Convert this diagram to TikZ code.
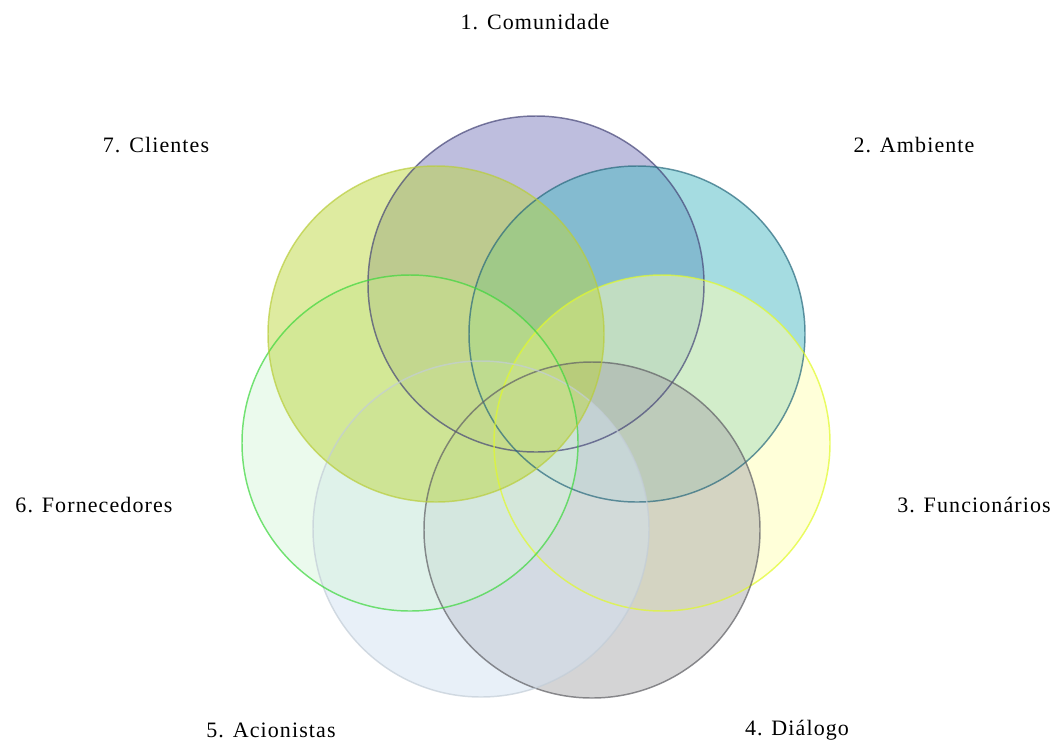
\documentclass[tikz,border=0pt]{standalone}
\usepackage{fontspec}
\setmainfont{Liberation Serif}[LetterSpace=5]
\definecolor{f1}{RGB}{125,125,189}\definecolor{e1}{RGB}{70,70,120}
\definecolor{f2}{RGB}{75,185,195}\definecolor{e2}{RGB}{40,105,125}
\definecolor{f3}{RGB}{255,255,180}\definecolor{e3}{RGB}{225,250,40}
\definecolor{f4}{RGB}{170,170,172}\definecolor{e4}{RGB}{95,95,100}
\definecolor{f5}{RGB}{209,225,241}\definecolor{e5}{RGB}{195,205,215}
\definecolor{f6}{RGB}{215,245,220}\definecolor{e6}{RGB}{60,215,60}
\definecolor{f7}{RGB}{189,215,65}\definecolor{e7}{RGB}{185,205,60}
\tikzset{
  venn/.style={circle, inner sep=0pt, minimum size=252pt, fill opacity=0.5},
  rim/.style={circle, inner sep=0pt, minimum size=252pt, line width=1.1pt, draw opacity=0.7},
  lbl/.style={font=\fontsize{16.5}{19}\selectfont, text=black, inner sep=0pt}
}
\begin{document}
\begin{tikzpicture}[x=0.75pt,y=-0.75pt]
\useasboundingbox (0,0) rectangle (1059,747);
\node[venn, fill=f1] (c1) at (536,284) {};
\node[venn, fill=f2] (c2) at (637,334) {};
\node[venn, fill=f3] (c3) at (662,443) {};
\node[venn, fill=f4] (c4) at (592,530) {};
\node[venn, fill=f5] (c5) at (481,529) {};
\node[venn, fill=f6] (c6) at (410,443) {};
\node[venn, fill=f7] (c7) at (436,334) {};
\node[rim, draw=e1] (r1) at (c1) {};
\node[rim, draw=e2] (r2) at (c2) {};
\node[rim, draw=e3] (r3) at (c3) {};
\node[rim, draw=e4] (r4) at (c4) {};
\node[rim, draw=e5] (r5) at (c5) {};
\node[rim, draw=e6] (r6) at (c6) {};
\node[rim, draw=e7] (r7) at (c7) {};
\node[lbl] (l1) at (535,22) {1. Comunidade};
\node[lbl] (l2) at (914,145) {2. Ambiente};
\node[lbl] (l3) at (974,505) {3. Funcionários};
\node[lbl] (l4) at (797,730) {4. Diálogo};
\node[lbl] (l5) at (271,730) {5. Acionistas};
\node[lbl] (l6) at (94,505) {6. Fornecedores};
\node[lbl] (l7) at (156,145) {7. Clientes};
\end{tikzpicture}
\end{document}
